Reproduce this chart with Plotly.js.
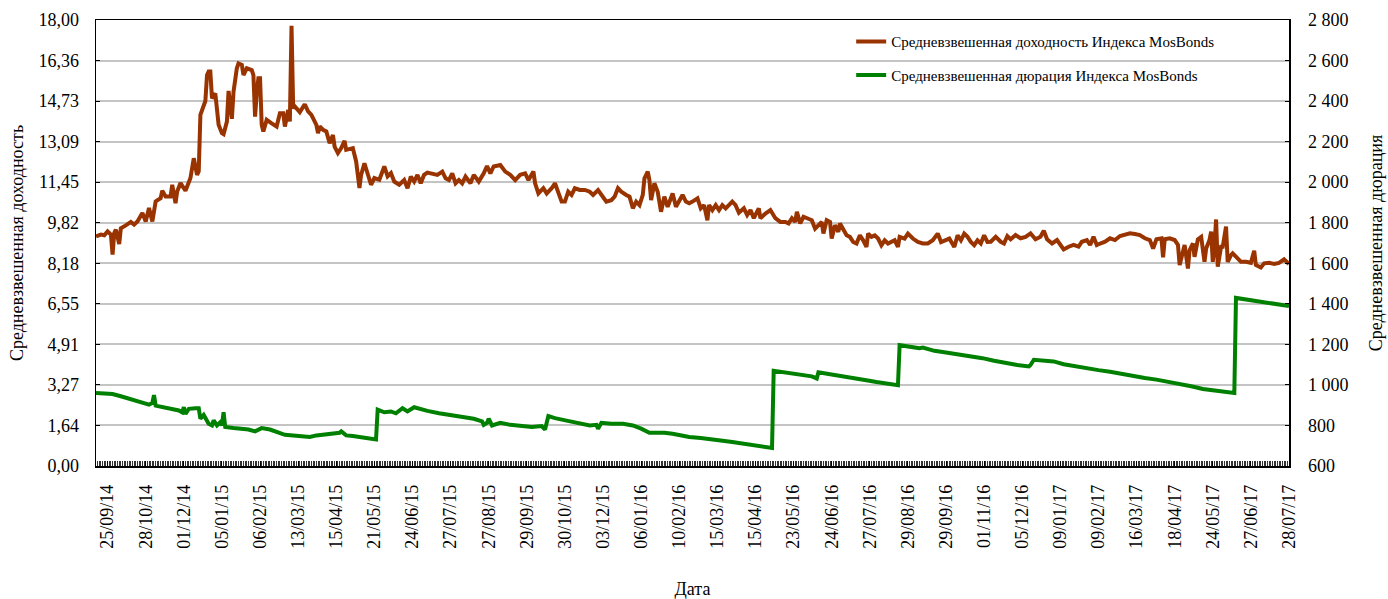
<!DOCTYPE html>
<html>
<head>
<meta charset="utf-8">
<script src="https://cdn.plot.ly/plotly-3.0.1.min.js"></script>
<style>html,body{margin:0;padding:0;background:#fff;}#chart{width:1388px;height:599px;}</style>
</head>
<body>
<div id="chart"></div>
<script>
// Trading-day index of each label (every 23 trading days, first label at day 7)
const dateLabels = ["25/09/14","28/10/14","01/12/14","05/01/15","06/02/15","13/03/15","15/04/15","21/05/15","24/06/15","27/07/15","27/08/15","29/09/15","30/10/15","03/12/15","06/01/16","10/02/16","15/03/16","15/04/16","23/05/16","24/06/16","27/07/16","29/08/16","29/09/16","01/11/16","05/12/16","09/01/17","09/02/17","16/03/17","18/04/17","24/05/17","27/06/17","28/07/17"];
const labelDays = [7,30,53,76,99,122,145,168,191,214,237,260,283,306,329,352,375,398,421,444,467,490,513,536,559,582,605,628,651,674,697,720];

// Weighted average yield (left axis, %)
const yieldDay = [0,3,5,7,9,10,11,12,14,15,18,21,23,25,28,30,32,34,36,39,40,42,45,46,48,49,51,54,57,59,61,62,63,65,66,67,68,69,70,72,74,76,77,79,80,82,83,85,86,88,89,91,94,95,96,97,98,99,100,101,103,106,109,111,113,114,116,117,118,119,120,123,126,128,130,133,134,135,137,139,141,143,144,146,148,150,151,155,157,159,160,162,164,166,168,171,174,176,178,180,183,186,188,190,192,194,196,198,200,203,206,209,211,213,215,217,219,221,223,226,228,231,234,236,238,240,242,244,247,250,253,256,259,261,264,265,267,270,272,275,277,279,281,283,285,287,289,292,295,298,300,303,306,308,311,313,315,317,320,322,324,326,328,330,331,333,334,335,337,339,341,343,345,348,350,352,354,356,358,360,363,365,367,369,370,372,374,376,378,380,384,386,388,391,393,395,397,400,401,404,407,410,413,416,418,420,422,423,425,427,430,432,434,436,438,439,441,443,444,446,448,449,451,453,455,457,459,461,463,465,466,468,470,472,474,476,478,480,482,484,485,488,490,493,496,499,502,505,508,510,513,515,518,520,522,524,526,528,530,532,534,536,538,540,543,546,548,550,552,555,558,561,564,567,570,572,574,577,580,582,584,587,590,593,595,598,600,602,604,606,609,612,615,618,621,624,627,630,633,636,638,640,643,644,645,648,651,653,654,656,657,659,660,662,663,665,667,669,670,672,673,674,675,676,677,679,680,682,683,685,686,689,691,694,697,699,700,703,705,708,711,714,717,720];
const yieldValue = [9.27,9.34,9.31,9.47,9.34,8.53,9.40,9.54,8.96,9.60,9.71,9.85,9.74,9.87,10.21,9.87,10.41,9.87,10.68,10.81,11.11,10.88,10.88,11.35,10.61,11.08,11.42,11.11,11.62,12.42,11.75,11.89,14.17,14.51,14.73,15.78,15.92,15.92,14.84,15.04,13.77,13.43,13.39,13.90,15.14,14.01,15.11,16.05,16.25,16.19,15.78,16.05,15.98,15.78,14.10,15.04,15.65,15.65,13.77,13.50,13.97,13.83,13.70,14.24,14.24,13.70,14.37,13.90,17.77,14.44,14.51,14.28,14.60,14.31,14.17,13.77,13.43,13.70,13.57,13.50,13.03,13.36,12.89,12.63,12.83,13.12,12.76,12.83,12.29,11.22,11.75,12.22,11.75,11.35,11.62,11.55,12.09,11.69,11.82,11.48,11.35,11.54,11.21,11.68,11.48,11.75,11.41,11.75,11.84,11.81,11.75,11.88,11.61,11.54,11.81,11.41,11.54,11.41,11.68,11.41,11.75,11.48,11.81,12.11,11.81,12.09,12.11,12.15,11.88,11.75,11.54,11.75,11.81,11.54,11.88,11.41,11.00,11.21,11.00,11.21,11.41,11.00,10.67,10.67,11.07,10.94,11.21,11.14,11.14,11.07,10.94,11.14,10.87,10.67,10.73,10.87,11.21,11.07,10.94,10.87,10.40,10.67,10.53,10.94,11.61,11.88,11.54,10.73,11.41,11.07,10.26,10.87,10.46,11.00,10.46,10.73,10.94,10.67,10.60,10.67,10.80,10.40,10.53,9.92,10.53,10.33,10.53,10.33,10.53,10.40,10.67,10.53,10.22,10.40,10.13,10.33,10.00,10.40,10.00,10.19,10.33,10.00,9.85,9.85,9.79,10.00,9.85,10.26,9.79,10.06,10.00,9.92,9.58,9.72,9.85,9.38,9.92,9.85,9.18,9.72,9.45,9.79,9.52,9.31,9.25,9.04,8.98,9.31,9.11,8.84,9.38,9.25,9.31,9.18,8.91,9.11,8.98,9.04,9.11,8.84,9.25,9.18,9.38,9.18,9.04,8.98,8.98,9.11,9.38,9.04,9.11,9.18,8.84,9.31,9.11,9.38,9.25,9.04,8.91,9.11,8.98,9.31,9.04,9.05,9.25,9.05,8.98,9.28,9.15,9.32,9.19,9.25,9.39,9.15,9.25,9.50,9.15,8.98,9.12,8.92,8.74,8.85,8.92,8.85,9.05,9.12,8.92,9.25,8.92,8.98,9.05,9.19,9.12,9.28,9.32,9.39,9.36,9.32,9.19,9.12,8.78,9.15,9.19,8.42,9.15,9.19,9.12,8.92,8.11,8.71,8.92,7.97,8.71,8.98,8.44,9.15,9.25,8.24,8.78,9.12,9.46,8.24,8.85,9.95,8.04,8.85,8.85,9.66,8.24,8.51,8.58,8.38,8.24,8.24,8.20,8.69,8.11,8.01,8.18,8.20,8.15,8.20,8.34,8.15];

// Weighted average duration (right axis, days)
const durDay = [0,5,10,15,20,24,29,32,34,35,36,41,45,50,52,53,54,56,60,62,63,65,68,70,71,73,75,76,77,78,83,88,92,96,100,105,110,114,119,124,129,133,138,143,147,148,151,155,160,165,169,170,174,178,181,185,188,192,195,200,207,214,221,228,233,234,236,237,239,244,250,256,263,269,271,273,277,284,291,298,302,303,305,311,318,324,329,334,338,343,348,352,358,365,370,377,384,391,398,405,408,409,415,421,427,432,435,436,443,450,457,464,471,478,484,485,491,497,499,506,513,520,528,535,542,549,556,563,564,566,572,578,584,591,598,605,612,619,626,633,640,647,654,661,668,676,683,687,688,694,701,708,715,720];
const durValue = [960,958,955,944,931,919,911,903,911,950,898,890,882,874,865,890,857,882,885,885,833,852,808,800,825,800,816,800,865,792,787,784,780,771,787,780,767,754,751,746,743,751,756,759,764,771,751,748,743,738,731,878,865,869,860,885,869,890,882,872,860,852,841,833,820,803,813,833,800,813,803,800,792,797,780,846,836,824,813,800,803,784,813,808,808,800,784,764,764,764,759,751,743,738,735,726,718,710,702,694,689,1070,1062,1053,1048,1042,1032,1062,1053,1045,1034,1024,1014,1004,999,1196,1187,1181,1184,1168,1160,1151,1143,1132,1119,1106,1098,1091,1098,1124,1119,1116,1102,1091,1081,1073,1065,1053,1042,1034,1026,1016,1004,993,980,972,963,960,1429,1421,1413,1405,1393,1389];

const seriesNames = ["Средневзвешенная доходность Индекса MosBonds","Средневзвешенная дюрация Индекса MosBonds"];
const serif = "Liberation Serif, Times New Roman, serif";

const traces = [
  {x: yieldDay, y: yieldValue, type: 'scatter', mode: 'lines', name: seriesNames[0], legendgroup: 'a',
   line: {color: '#993300', width: 4}, yaxis: 'y'},
  {x: durDay, y: durValue, type: 'scatter', mode: 'lines', name: seriesNames[1], legendgroup: 'b',
   line: {color: '#008000', width: 4}, yaxis: 'y2'}
];

const layout = {
  width: 1388, height: 599,
  margin: {l: 96, r: 99, t: 20, b: 133, pad: 0},
  paper_bgcolor: '#ffffff', plot_bgcolor: '#ffffff',
  separators: ', ',
  font: {family: serif, size: 18, color: '#000'},
  showlegend: true,
  legend: {x: 0.633, y: 0.988, xanchor: 'left', yanchor: 'top', bgcolor: 'rgba(0,0,0,0)',
           font: {family: serif, size: 15, color: '#000'}, tracegroupgap: 11, traceorder: 'grouped'},
  xaxis: {
    range: [0, 720], tickmode: 'array', tickvals: labelDays, ticktext: dateLabels,
    tickangle: -90, ticks: 'inside', ticklen: 5, tickcolor: '#000', tickwidth: 1,
    ticklabelstandoff: 10,
    minor: {tickmode: 'linear', tick0: 0, dtick: 1, ticks: 'inside', ticklen: 5, tickcolor: '#333', tickwidth: 1, showgrid: false},
    showgrid: false, zeroline: false, showline: true, linecolor: '#000', linewidth: 1.5, mirror: true,
    tickfont: {family: serif, size: 18, color: '#000'},
    title: {text: 'Дата', font: {family: serif, size: 18, color: '#000'}, standoff: 35},
    automargin: false
  },
  yaxis: {
    range: [0, 18], tickmode: 'linear', tick0: 0, dtick: 18/11, tickformat: '.2f',
    ticks: 'inside', ticklen: 4, tickcolor: '#000', ticklabelstandoff: 12,
    showgrid: true, gridcolor: '#c4c4c4', gridwidth: 2, zeroline: false,
    showline: true, linecolor: '#000', linewidth: 1.5,
    tickfont: {family: serif, size: 18, color: '#000'},
    title: {text: 'Средневзвешенная доходность', font: {family: serif, size: 18, color: '#000'}, standoff: 10},
    automargin: false
  },
  yaxis2: {
    overlaying: 'y', side: 'right', range: [600, 2800], tickmode: 'linear', tick0: 600, dtick: 200, tickformat: ',d',
    ticks: 'inside', ticklen: 4, tickcolor: '#000', ticklabelstandoff: 14,
    showgrid: false, zeroline: false, showline: true, linecolor: '#000', linewidth: 1.5,
    tickfont: {family: serif, size: 18, color: '#000'},
    title: {text: 'Средневзвешенная дюрация', font: {family: serif, size: 18, color: '#000'}, standoff: 22},
    automargin: false
  }
};

Plotly.newPlot('chart', traces, layout, {displayModeBar: false, staticPlot: true});
</script>
</body>
</html>
